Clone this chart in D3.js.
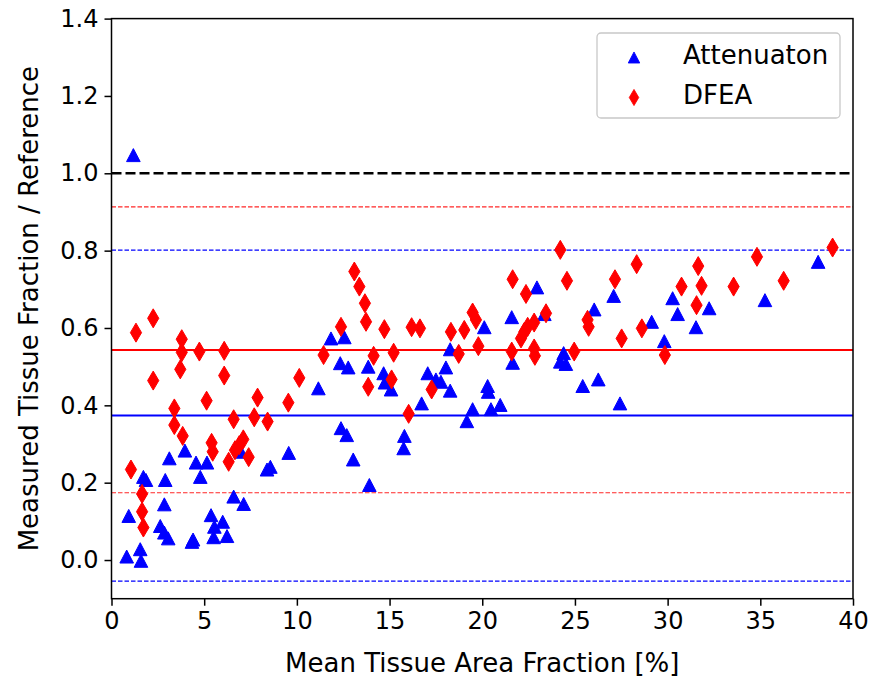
<!DOCTYPE html>
<html>
<head>
<meta charset="utf-8">
<script src="https://cdn.jsdelivr.net/npm/d3@7"></script>
<style>
  body { margin: 0; background: #fff; }
  svg { display: block; font-family: "DejaVu Sans", sans-serif; }
</style>
</head>
<body>
<div id="chart"></div>
<script>
// Attenuation method (blue triangles)
const attenX = [1.18, 0.82, 1.55, 1.59, 0.93, 1.72, 1.86, 3.12, 2.90, 2.85, 2.63, 2.85, 3.06, 3.96, 4.56, 5.15, 4.79, 4.34, 4.40,
  5.37, 5.55, 6.00, 5.51, 6.23, 6.59, 7.13, 6.98, 8.39, 8.57, 9.56, 11.16, 11.84, 12.56, 12.34, 12.77, 12.38, 12.69, 13.04,
  13.91, 13.85, 14.68, 14.75, 15.08, 15.80, 15.76, 16.73, 17.06, 17.50, 17.77, 18.04, 18.27, 18.27, 19.17, 19.48, 20.29,
  20.32, 20.47, 20.97, 20.11, 21.59, 21.64, 22.95, 23.35, 24.21, 24.39, 24.51, 25.42, 26.26, 26.04,
  27.09, 27.43, 29.14, 29.82, 30.27, 30.54, 31.53, 32.24, 35.25, 38.12];
const attenY = [1.047, 0.009, 0.028, -0.002, 0.114, 0.215, 0.207, 0.263, 0.207, 0.144, 0.088, 0.071, 0.056, 0.283, 0.252, 0.252, 0.215, 0.047, 0.053,
  0.116, 0.086, 0.099, 0.059, 0.062, 0.164, 0.145, 0.280, 0.234, 0.241, 0.277, 0.444, 0.573, 0.576, 0.509, 0.498, 0.341, 0.323, 0.260,
  0.194, 0.500, 0.483, 0.459, 0.441, 0.321, 0.289, 0.405, 0.483, 0.467, 0.461, 0.498, 0.438, 0.545, 0.359, 0.390, 0.450,
  0.435, 0.390, 0.401, 0.602, 0.628, 0.510, 0.705, 0.636, 0.513, 0.535, 0.507, 0.450, 0.467, 0.648,
  0.683, 0.405, 0.616, 0.566, 0.677, 0.636, 0.602, 0.651, 0.672, 0.771];

// DFEA method (red diamonds)
const dfeaX = [1.32, 2.25, 2.25, 1.05, 1.65, 1.65, 1.72, 3.79, 3.79, 3.71, 4.74, 6.08, 6.08, 3.39, 3.39, 3.84, 5.13, 5.40, 5.46,
  6.32, 6.59, 6.66, 6.89, 7.11, 7.40, 7.88, 7.70, 8.42, 9.54, 10.13, 11.44, 12.38, 13.10,
  13.37, 13.67, 13.73, 14.14, 13.85, 14.72, 15.22, 15.11, 16.03, 16.19, 16.64, 17.27, 18.31, 18.73, 19.03, 19.48, 19.66, 19.79,
  21.64, 21.59, 22.36, 22.09, 22.27, 22.45, 22.80, 22.80, 22.84, 23.44, 24.21, 24.57, 24.96, 25.68, 25.74,
  27.16, 27.52, 28.33, 28.61, 29.85, 30.75, 31.65, 31.83, 31.56, 33.56, 34.82, 36.26, 38.90];
const dfeaY = [0.588, 0.625, 0.464, 0.234, 0.171, 0.125, 0.084, 0.571, 0.537, 0.493, 0.539, 0.541, 0.477, 0.392, 0.349, 0.321, 0.412, 0.303, 0.280,
  0.254, 0.364, 0.284, 0.297, 0.312, 0.266, 0.420, 0.369, 0.358, 0.407, 0.471, 0.530, 0.603, 0.746,
  0.707, 0.664, 0.616, 0.528, 0.448, 0.597, 0.536, 0.467, 0.378, 0.602, 0.599, 0.441, 0.590, 0.533, 0.595, 0.640, 0.621, 0.553,
  0.726, 0.539, 0.688, 0.573, 0.590, 0.603, 0.614, 0.547, 0.528, 0.638, 0.802, 0.722, 0.539, 0.621, 0.603,
  0.726, 0.573, 0.765, 0.599, 0.530, 0.707, 0.760, 0.709, 0.659, 0.707, 0.784, 0.722, 0.808];

// mean and limits of agreement
const attenMean = 0.3735, attenLimits = [-0.0545, 0.8015];
const dfeaMean = 0.543, dfeaLimits = [0.174, 0.913];
const identity = 1.0;

const xTicks = [0, 5, 10, 15, 20, 25, 30, 35, 40];
const yTicks = [0.0, 0.2, 0.4, 0.6, 0.8, 1.0, 1.2, 1.4];
const legendLabels = ['Attenuaton', 'DFEA'];

const width = 872, height = 679;
const plotLeft = 111.5, plotRight = 853, plotTop = 18.6, plotBottom = 598.7;
const tickFont = 24, labelFont = 26;

const svg = d3.select('#chart').append('svg')
  .attr('width', width).attr('height', height);

const x = d3.scaleLinear().domain([0, 40]).range([plotLeft, plotRight]);
const y = d3.scaleLinear().domain([-0.1, 1.4]).range([plotBottom, plotTop]);

const plot = svg.append('g');

// Horizontal reference lines
const hline = (v, color, w, dash, op) => {
  plot.append('line')
    .attr('x1', plotLeft).attr('x2', plotRight)
    .attr('y1', y(v)).attr('y2', y(v))
    .attr('stroke', color).attr('stroke-width', w)
    .attr('stroke-opacity', op)
    .attr('stroke-dasharray', dash);
};
hline(identity, '#000', 2.5, '10,4', 1);
dfeaLimits.forEach(v => hline(v, '#ff0000', 1.2, '4.5,2', 0.85));
attenLimits.forEach(v => hline(v, '#0000ff', 1.2, '4.5,2', 1));
hline(dfeaMean, '#ff0000', 2, null, 1);
hline(attenMean, '#0000ff', 2, null, 1);

const triPath = 'M0,-6.5L6.8,6.5L-6.8,6.5Z';
const diaPath = 'M0,-9.5L5.6,0L0,9.5L-5.6,0Z';

// Markers
plot.append('g').selectAll('path')
  .data(attenX.map((v, i) => [v, attenY[i]]))
  .join('path')
  .attr('d', triPath)
  .attr('transform', d => `translate(${x(d[0])},${y(d[1])})`)
  .attr('fill', '#0000ff').attr('stroke', '#0000ff').attr('stroke-width', 1);

plot.append('g').selectAll('path')
  .data(dfeaX.map((v, i) => [v, dfeaY[i]]))
  .join('path')
  .attr('d', diaPath)
  .attr('transform', d => `translate(${x(d[0])},${y(d[1])})`)
  .attr('fill', '#ff0000').attr('stroke', '#ff0000').attr('stroke-width', 1);

// Axes
const xAxis = svg.append('g')
  .attr('transform', `translate(0,${plotBottom})`)
  .call(d3.axisBottom(x).tickValues(xTicks).tickSize(7).tickPadding(6).tickFormat(d3.format('d')));
const yAxis = svg.append('g')
  .attr('transform', `translate(${plotLeft},0)`)
  .call(d3.axisLeft(y).tickValues(yTicks).tickSize(7).tickPadding(6).tickFormat(d3.format('.1f')));

[xAxis, yAxis].forEach(a => {
  a.select('.domain').remove();
  a.selectAll('line').attr('stroke', '#000').attr('stroke-width', 1.5);
  a.selectAll('text')
    .attr('fill', '#000')
    .style('font-size', tickFont + 'px')
    .style('font-family', '"DejaVu Sans", sans-serif');
});

// Frame
svg.append('rect')
  .attr('x', plotLeft).attr('y', plotTop)
  .attr('width', plotRight - plotLeft).attr('height', plotBottom - plotTop)
  .attr('fill', 'none').attr('stroke', '#000').attr('stroke-width', 1.5);

// Axis labels
svg.append('text')
  .attr('x', (plotLeft + plotRight) / 2).attr('y', 672)
  .attr('text-anchor', 'middle')
  .style('font-size', labelFont + 'px')
  .text('Mean Tissue Area Fraction [%]');

svg.append('text')
  .attr('transform', `translate(38,${(plotTop + plotBottom) / 2}) rotate(-90)`)
  .attr('text-anchor', 'middle')
  .style('font-size', labelFont + 'px')
  .text('Measured Tissue Fraction / Reference');

// Legend
const lg = svg.append('g').attr('transform', 'translate(597,33)');
lg.append('rect')
  .attr('width', 243).attr('height', 85)
  .attr('rx', 4).attr('ry', 4)
  .attr('fill', '#fff').attr('fill-opacity', 0.8)
  .attr('stroke', '#c8c8c8').attr('stroke-width', 1.3);

lg.append('path')
  .attr('d', triPath)
  .attr('transform', 'translate(37,24.5) scale(0.85)')
  .attr('fill', '#0000ff').attr('stroke', '#0000ff');
lg.append('path')
  .attr('d', diaPath)
  .attr('transform', 'translate(37,64.5) scale(0.85)')
  .attr('fill', '#ff0000').attr('stroke', '#ff0000');

legendLabels.forEach((t, i) => {
  lg.append('text')
    .attr('x', 86).attr('y', 31 + i * 40)
    .style('font-size', labelFont + 'px')
    .text(t);
});
</script>
</body>
</html>
